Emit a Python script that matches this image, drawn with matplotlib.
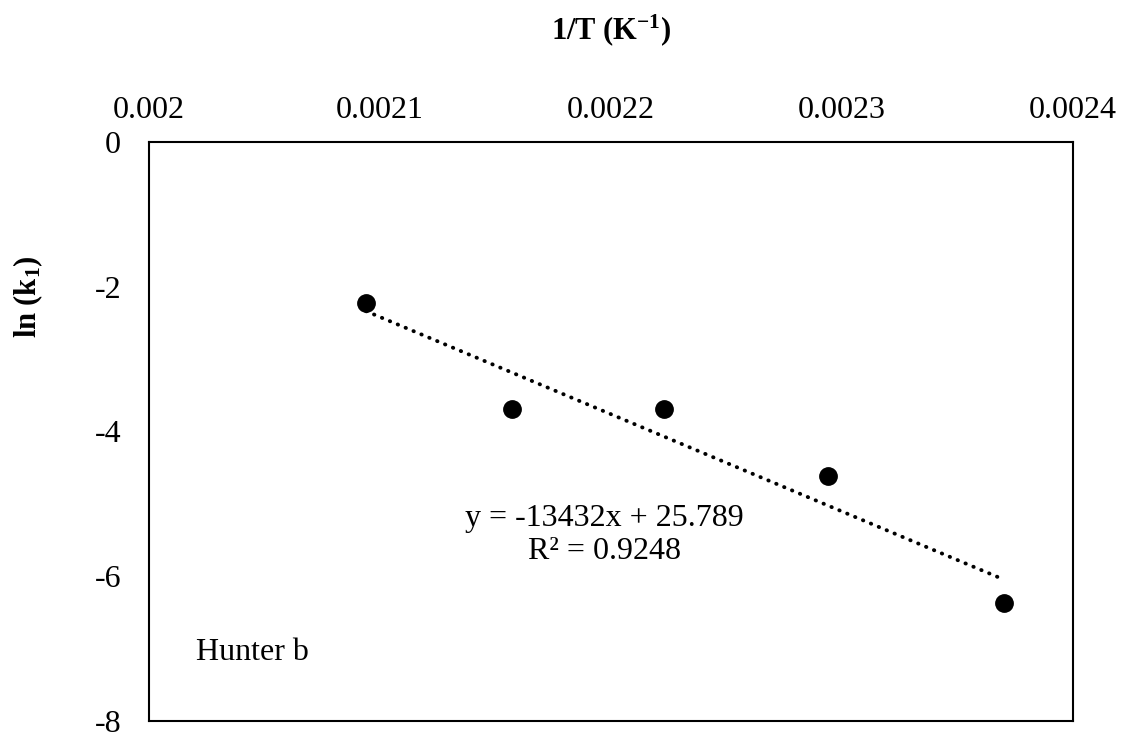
import matplotlib
matplotlib.use("Agg")
import matplotlib.pyplot as plt
import numpy as np

# data (Arrhenius plot)
inv_T = [0.002094, 0.002157, 0.002223, 0.002294, 0.002370]
ln_k1 = [-2.23, -3.69, -3.69, -4.61, -6.37]

# trendline as reported on the chart
slope = -13432
intercept = 25.789
r2 = 0.9248

x_ticks = [0.002, 0.0021, 0.0022, 0.0023, 0.0024]
y_ticks = [0, -2, -4, -6, -8]

plt.rcParams['font.family'] = ['Liberation Serif', 'DejaVu Serif']
plt.rcParams['axes.unicode_minus'] = False
plt.rcParams['mathtext.fontset'] = 'custom'
plt.rcParams['mathtext.rm'] = 'Liberation Serif'
plt.rcParams['mathtext.bf'] = 'Liberation Serif:bold'
plt.rcParams['mathtext.it'] = 'Liberation Serif:italic'

W, H = 1126, 738
fig = plt.figure(figsize=(W / 100, H / 100), dpi=100)
ax = fig.add_axes([149 / W, 1 - 721 / H, (1073 - 149) / W, (721 - 142) / H])

ax.plot(inv_T, ln_k1, 'o', color='black', ms=12.5, zorder=3)

xs = np.array([min(inv_T), max(inv_T)])
ax.plot(xs, slope * xs + intercept, color='black', lw=2.8,
        linestyle=(0, (0.1, 2.1)), dash_capstyle='round', zorder=2)

ax.set_xlim(x_ticks[0], x_ticks[-1])
ax.set_ylim(-8, 0)
ax.set_xticks(x_ticks)
ax.set_xticklabels([str(t) for t in x_ticks])
ax.set_yticks(y_ticks)
ax.xaxis.tick_top()
ax.tick_params(axis='both', length=0, labelsize=23)
ax.tick_params(axis='x', pad=12)
ax.tick_params(axis='y', pad=20)
for s in ax.spines.values():
    s.set_linewidth(1.5)

ax.text(0.493, 0.350, f"y = {slope}x + {intercept}", transform=ax.transAxes,
        ha='center', va='center', fontsize=23)
ax.text(0.493, 0.292, f"R² = {r2}", transform=ax.transAxes,
        ha='center', va='center', fontsize=23)
fig.text(196 / W, 1 - 652 / H, "Hunter b", fontsize=23, va='center')

fig.text(611 / W, 1 - 30 / H, r'$\mathbf{1/T\ (K^{-1})}$',
         ha='center', va='center', fontsize=22)
fig.text(28 / W, 1 - 297 / H, r'$\mathbf{ln\ (k_1)}$',
         ha='center', va='center', rotation=90, fontsize=22)

fig.savefig('out.png', dpi=100)
